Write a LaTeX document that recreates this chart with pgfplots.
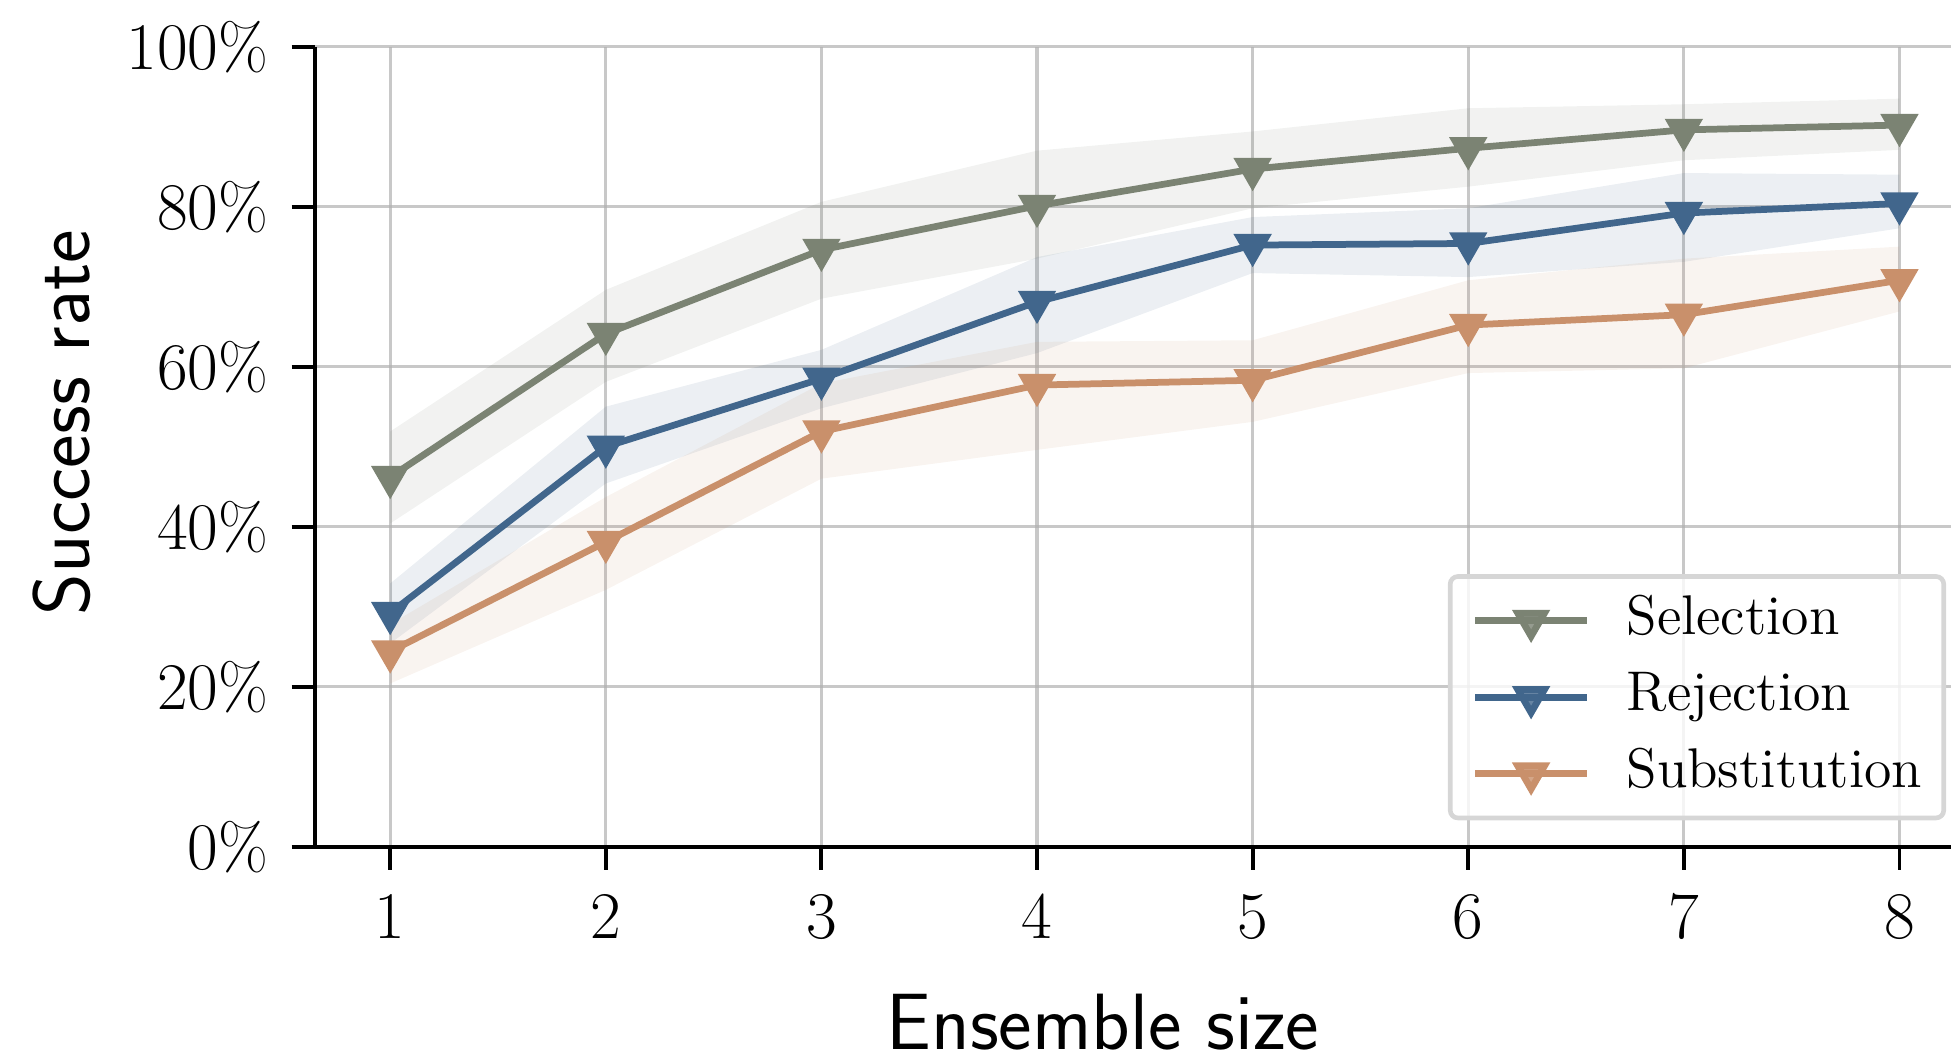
\documentclass[border=0pt]{standalone}
\usepackage{pgfplots}
\pgfplotsset{compat=1.18}
\usetikzlibrary{calc}

\definecolor{selc}{HTML}{7B8373}
\definecolor{rejc}{HTML}{41668C}
\definecolor{subc}{HTML}{C9906B}
\definecolor{gridc}{HTML}{B0B0B0}

\begin{document}
\begin{tikzpicture}
\begin{axis}[
    scale only axis,
    width=424.2pt, height=207.4pt,
    xmin=0.65, xmax=8.239,
    ymin=0, ymax=100,
    axis x line*=bottom,
    axis y line*=left,
    axis line style={black, line width=1pt},
    xtick={1,...,8},
    ytick={0,20,...,100},
    yticklabel={\pgfmathprintnumber{\tick}\%},
    tick align=outside,
    major tick length=6pt,
    tick style={black, line width=1pt},
    tick label style={font=\fontsize{16.7}{19}\selectfont},
    yticklabel style={xshift=-2.6pt},
    xticklabel style={yshift=-3.2pt},
    grid=major,
    major grid style={color=gridc, opacity=0.7, line width=0.8pt},
    xlabel={Ensemble size},
    ylabel={Success rate},
    label style={font=\sffamily\fontsize{20.7}{24}\selectfont},
    xlabel style={at={(axis description cs:0.4817,-0.219)}, anchor=center},
    ylabel style={at={(axis description cs:-0.1544,0.53)}, anchor=center},
    legend style={
        at={(rel axis cs:0.997,0.033)}, anchor=south east,
        draw=black!16, line width=1.2pt, rounded corners=2pt,
        fill=white, fill opacity=0.8, text opacity=1,
        font=\fontsize{14.5}{17}\selectfont,
        inner xsep=5.6pt, inner ysep=5pt,
        row sep=6.8pt, column sep=0pt,
        nodes={inner sep=0pt, text height=10pt, text depth=3pt, anchor=west},
    },
    legend cell align=left,
    legend image code/.code={
        \draw[mark repeat=2, mark phase=2] plot coordinates {(0pt,0pt) (14.5pt,0pt) (29pt,0pt)};
        \path (38.4pt,0pt);
    },
    every axis plot/.append style={line width=1.75pt, mark=triangle*, mark size=4pt, mark options={rotate=180, solid}},
]

% bands: upper edge left to right, then lower edge right to left
\addplot[draw=none, fill=selc, fill opacity=0.1, mark=none, forget plot] coordinates {
    (1,51.9) (2,69.6) (3,80.6) (4,87.0) (5,89.4) (6,92.3) (7,92.8) (8,93.5)
    (8,87.1) (7,85.8) (6,82.5) (5,79.8) (4,73.5) (3,68.5) (2,58.1) (1,40.4)};
\addplot[draw=none, fill=rejc, fill opacity=0.1, mark=none, forget plot] coordinates {
    (1,32.9) (2,55.0) (3,62.1) (4,73.7) (5,78.7) (6,79.8) (7,84.2) (8,84.0)
    (8,77.3) (7,73.1) (6,71.2) (5,71.7) (4,61.7) (3,54.8) (2,45.4) (1,25.4)};
\addplot[draw=none, fill=subc, fill opacity=0.1, mark=none, forget plot] coordinates {
    (1,27.8) (2,43.7) (3,57.9) (4,63.1) (5,63.3) (6,70.8) (7,73.5) (8,75.0)
    (8,66.9) (7,59.8) (6,59.2) (5,53.1) (4,49.6) (3,46.0) (2,32.1) (1,20.4)};

\addplot[color=selc] coordinates {(1,46.2) (2,64.1) (3,74.6) (4,80.1) (5,84.7) (6,87.3) (7,89.6) (8,90.2)};
\addlegendentry{Selection}
\addplot[color=rejc] coordinates {(1,29.2) (2,50.0) (3,58.5) (4,68.1) (5,75.2) (6,75.4) (7,79.2) (8,80.4)};
\addlegendentry{Rejection}
\addplot[color=subc] coordinates {(1,24.4) (2,38.1) (3,51.9) (4,57.7) (5,58.3) (6,65.2) (7,66.5) (8,70.8)};
\addlegendentry{Substitution}

\coordinate (sw) at (rel axis cs:0,0);
\coordinate (ne) at (rel axis cs:1,1);
\end{axis}
\pgfresetboundingbox
\path[use as bounding box] ($(sw)+(-81.6pt,-56.1pt)$) rectangle ($(ne)+(0pt,12.1pt)$);
\end{tikzpicture}
\end{document}
